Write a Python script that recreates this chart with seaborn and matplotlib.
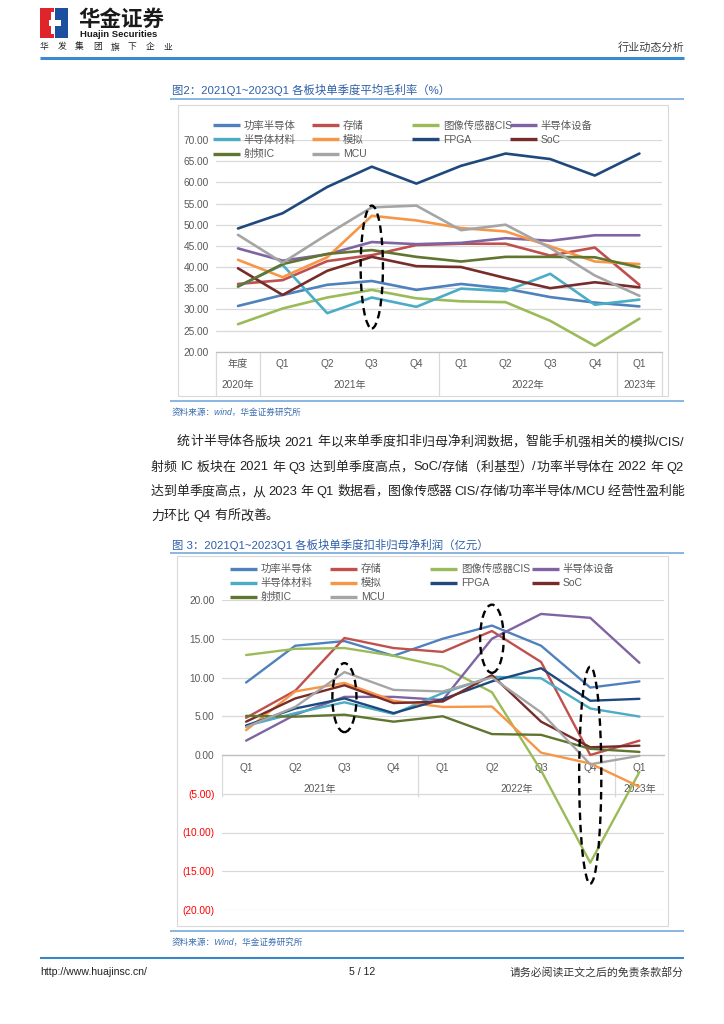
import numpy as np
import pandas as pd
import matplotlib
matplotlib.use('Agg')
import matplotlib.pyplot as plt
import matplotlib.transforms as mtransforms
from matplotlib.lines import Line2D
from matplotlib.patches import Ellipse, Rectangle
import seaborn as sns

# ---------------- data ----------------
series = ['功率半导体', '存储', '图像传感器CIS', '半导体设备', '半导体材料',
          '模拟', 'FPGA', 'SoC', '射频IC', 'MCU']
colors = ['#4F81BD', '#C0504D', '#9BBB59', '#8064A2', '#4BACC6',
          '#F79646', '#1F497D', '#772C2A', '#5F7530', '#A5A5A5']

# 图2 平均毛利率 (%)
quarters_m = ['年度', 'Q1', 'Q2', 'Q3', 'Q4', 'Q1', 'Q2', 'Q3', 'Q4', 'Q1']
years_m = ['2020年', '2021年', '2022年', '2023年']
year_sizes_m = [1, 4, 4, 1]
margin_power = [30.8, 33.4, 35.8, 36.7, 34.6, 36.0, 34.9, 32.9, 31.6, 30.7]
margin_memory = [36.0, 36.9, 41.4, 42.8, 45.2, 45.5, 45.5, 42.7, 44.6, 35.8]
margin_cis = [26.5, 30.2, 32.8, 34.6, 32.6, 31.9, 31.7, 27.3, 21.4, 27.8]
margin_equip = [44.4, 41.5, 43.0, 45.9, 45.4, 45.7, 46.8, 46.2, 47.5, 47.5]
margin_material = [35.4, 40.5, 29.1, 32.8, 30.6, 34.9, 34.3, 38.4, 31.1, 32.3]
margin_analog = [41.7, 37.6, 42.3, 52.1, 51.0, 49.2, 48.4, 44.9, 41.3, 40.7]
margin_fpga = [49.1, 52.7, 58.9, 63.7, 59.7, 63.9, 66.8, 65.5, 61.6, 66.8]
margin_soc = [39.7, 33.4, 39.1, 42.4, 40.2, 40.0, 37.4, 35.0, 36.4, 35.2]
margin_rf = [35.4, 40.7, 43.1, 44.0, 42.4, 41.3, 42.4, 42.4, 42.3, 39.9]
margin_mcu = [47.6, 41.0, 47.7, 54.1, 54.5, 48.7, 50.0, 44.5, 38.0, 33.2]

# 图3 扣非归母净利润 (亿元)
quarters_p = ['Q1', 'Q2', 'Q3', 'Q4', 'Q1', 'Q2', 'Q3', 'Q4', 'Q1']
years_p = ['2021年', '2022年', '2023年']
year_sizes_p = [4, 4, 1]
profit_power = [9.35, 14.1, 14.7, 12.8, 15.0, 16.7, 14.1, 8.7, 9.5]
profit_memory = [4.8, 8.3, 15.1, 13.8, 13.3, 16.0, 12.0, 0.0, 1.85]
profit_cis = [12.9, 13.7, 13.8, 12.8, 11.4, 8.1, -2.0, -13.9, -2.2]
profit_equip = [1.85, 5.2, 7.5, 7.5, 7.1, 15.0, 18.2, 17.7, 11.9]
profit_material = [3.75, 5.4, 6.8, 5.3, 8.0, 10.1, 9.9, 6.0, 4.96]
profit_analog = [3.2, 8.2, 9.3, 7.0, 6.2, 6.25, 0.3, -1.1, -4.1]
profit_fpga = [3.8, 6.0, 7.3, 5.4, 7.2, 9.5, 11.2, 7.0, 7.25]
profit_soc = [4.3, 7.3, 9.0, 6.7, 6.9, 10.3, 4.3, 1.0, 1.2]
profit_rf = [5.05, 4.95, 5.2, 4.3, 5.0, 2.7, 2.6, 0.8, 0.4]
profit_mcu = [3.6, 6.2, 10.7, 8.4, 8.2, 10.0, 5.5, -1.2, -0.1]

# dashed highlight ellipses: (category index, centre value, width, height)
circles_m = [(3, 40.0, 0.5, 29.0)]
circles_p = [(2, 7.4, 0.49, 8.9), (5, 15.0, 0.48, 8.8), (7, -2.6, 0.45, 28.0)]

para_lines = [
    '统计半导体各版块 2021 年以来单季度扣非归母净利润数据，智能手机强相关的模拟/CIS/',
    '射频 IC 板块在 2021 年 Q3 达到单季度高点，SoC/存储（利基型）/功率半导体在 2022 年 Q2',
    '达到单季度高点，从 2023 年 Q1 数据看，图像传感器 CIS/存储/功率半导体/MCU 经营性盈利能',
    '力环比 Q4 有所改善。',
]

# ---------------- setup ----------------
sns.set_theme(style='white')
plt.rcParams['font.family'] = ['Liberation Sans', 'Noto Sans CJK SC', 'DejaVu Sans']
CJK = ['Noto Sans CJK SC', 'DejaVu Sans']
LATIN = ['Liberation Sans', 'Noto Sans CJK SC']

W, H = 724, 1024
fig = plt.figure(figsize=(7.24, 10.24), dpi=100)
fig.patch.set_facecolor('white')


def fx(x):
    return x / W


def fy(y):
    return 1 - y / H


def hline(x0, x1, y, color, lw):
    fig.add_artist(Line2D([fx(x0), fx(x1)], [fy(y), fy(y)], transform=fig.transFigure,
                          color=color, lw=lw, solid_capstyle='butt'))


def long_df(lists):
    rows = []
    for name, vals in zip(series, lists):
        for i, v in enumerate(vals):
            rows.append((i, v, name))
    return pd.DataFrame(rows, columns=['pos', 'value', 'series'])


def draw_chart(rect, df, quarters, years, sizes, ylim, step, lw, zero_axis):
    ax = fig.add_axes(rect)
    ax.set_facecolor('none')
    sns.lineplot(data=df, x='pos', y='value', hue='series', hue_order=series,
                 palette=colors, lw=lw, errorbar=None, legend=False, ax=ax, zorder=3)
    n = len(quarters)
    ax.set_xlim(-0.5, n - 0.5)
    ax.set_ylim(*ylim)
    ticks = np.arange(ylim[0], ylim[1] + 0.1, step)
    ax.set_yticks(ticks)
    ax.set_yticklabels([f'{t:.2f}' if t >= 0 else f'({-t:.2f})' for t in ticks])
    ax.yaxis.grid(True, color='#d9d9d9', lw=0.9)
    ax.xaxis.grid(False)
    for s in ['left', 'right', 'top']:
        ax.spines[s].set_visible(False)
    ax.spines['bottom'].set_color('#bfbfbf')
    ax.spines['bottom'].set_linewidth(0.9)
    if zero_axis:
        ax.spines['bottom'].set_position(('data', 0))
    ax.set_xticks(range(n))
    ax.set_xticklabels(quarters)
    ax.tick_params(axis='x', length=0, pad=5.5, labelsize=7.3, labelcolor='#595959')
    ax.tick_params(axis='y', length=0, pad=5, labelsize=7.3, labelcolor='#595959')
    ax.set_xlabel('')
    ax.set_ylabel('')
    return ax


# ---------------- header ----------------
fig.add_artist(Rectangle((fx(40), fy(38)), 14 / W, 30 / H, transform=fig.transFigure,
                         fc='#e0242b', ec='none'))
fig.add_artist(Rectangle((fx(55), fy(38)), 13 / W, 30 / H, transform=fig.transFigure,
                         fc='#1d4fa0', ec='none'))
fig.add_artist(Rectangle((fx(49), fy(26)), 12 / W, 6 / H, transform=fig.transFigure,
                         fc='white', ec='none'))
fig.add_artist(Rectangle((fx(51), fy(34)), 3 / W, 22 / H, transform=fig.transFigure,
                         fc='white', ec='none'))
fig.text(fx(78), fy(19), '华金证券', fontsize=15.5, weight='bold', color='#1a1a1a',
         va='center', ha='left', family=CJK)
fig.text(fx(80), fy(34.5), 'Huajin Securities', fontsize=6.8, weight='bold', color='#1a1a1a',
         va='center', ha='left', family=LATIN)
for i, ch in enumerate('华发集团旗下企业'):
    fig.text(fx(40 + i * 17.6), fy(47), ch, fontsize=6.3, color='#222222',
             va='center', ha='left', family=CJK)
fig.text(fx(684), fy(47), '行业动态分析', fontsize=8, color='#404040',
         va='center', ha='right', family=CJK)
hline(40, 684, 58, '#3a8ad0', 2.2)

# ---------------- figure 2 ----------------
fig.text(fx(172), fy(90), '图2：2021Q1~2023Q1 各板块单季度平均毛利率（%）',
         fontsize=8.2, color='#2e5fa8', va='center', ha='left')
hline(170, 684, 99, '#7fb0de', 1.3)
fig.add_artist(Rectangle((fx(178), fy(396)), 490 / W, 291 / H, transform=fig.transFigure,
                         fill=False, ec='#d9d9d9', lw=0.8))

df_m = long_df([margin_power, margin_memory, margin_cis, margin_equip, margin_material,
                margin_analog, margin_fpga, margin_soc, margin_rf, margin_mcu])
ax2 = draw_chart([215.7 / W, 1 - 351.7 / H, 446 / W, 211.7 / H], df_m, quarters_m,
                 years_m, year_sizes_m, (20, 70), 5, 1.9, False)
blend2 = mtransforms.blended_transform_factory(ax2.transData, ax2.transAxes)
edges = np.concatenate([[0], np.cumsum(year_sizes_m)]) - 0.5
for e in edges:
    ax2.axvline(e, ymin=-0.209, ymax=0, clip_on=False, color='#d9d9d9', lw=0.9)
for lab, a, b in zip(years_m, edges[:-1], edges[1:]):
    ax2.text((a + b) / 2, -0.157, lab, transform=blend2, ha='center', va='center',
             fontsize=7.3, color='#595959')
for cx, cy, w, h in circles_m:
    ax2.add_patch(Ellipse((cx, cy), w, h, fill=False, ec='black', lw=1.7,
                          ls=(0, (3.2, 2.0)), zorder=6))

# ---------------- legends ----------------
def legends(col_x, row_y):
    for i, (name, c) in enumerate(zip(series, colors)):
        r, k = divmod(i, 4)
        h = Line2D([], [], color=c, lw=2.4, solid_capstyle='butt')
        fig.legend([h], [name], loc='center left',
                   bbox_to_anchor=(fx(col_x[k]), fy(row_y[r])),
                   frameon=False, fontsize=7.5, handlelength=2.6, handletextpad=0.35,
                   borderpad=0, borderaxespad=0, labelcolor='#595959')


legends([213, 312, 412, 510], [125.7, 140, 154.3])

fig.text(fx(172), fy(412), '资料来源：wind，华金证券研究所', fontsize=6.2,
         color='#3b6eb0', style='italic', va='center', ha='left')
hline(170, 684, 401, '#7fb0de', 1.3)

# ---------------- paragraph ----------------
def split_segments(s):
    segs, buf = [], ''
    for ch in s:
        if ch == ' ':
            if buf:
                segs.append(buf)
                buf = ''
            segs.append(' ')
        elif ord(ch) < 128:
            buf += ch
        else:
            if buf:
                segs.append(buf)
                buf = ''
            segs.append(ch)
    if buf:
        segs.append(buf)
    return segs


renderer = fig.canvas.get_renderer()


def put_line(text, x0, x1, y, fs, justify=True):
    px = fs * 100 / 72
    segs = split_segments(text)
    widths = []
    for s in segs:
        if s == ' ':
            widths.append(px * 0.28)
        elif ord(s[0]) > 127:
            widths.append(px)
        else:
            t = fig.text(0, 0, s, fontsize=fs, family=LATIN)
            widths.append(t.get_window_extent(renderer).width)
            t.remove()
    gap = (x1 - x0 - sum(widths)) / (len(segs) - 1) if justify else 0.0
    x = x0
    for s, w in zip(segs, widths):
        if s != ' ':
            if ord(s[0]) > 127:
                if s in '，。：；）/':
                    ha, xx = 'left', x
                elif s == '（':
                    ha, xx = 'right', x + w
                else:
                    ha, xx = 'center', x + w / 2
                fig.text(fx(xx), fy(y), s, fontsize=fs, family=CJK, ha=ha,
                         va='baseline', color='#222222')
            else:
                fig.text(fx(x), fy(y), s, fontsize=fs, family=LATIN, ha='left',
                         va='baseline', color='#222222')
        x += w + gap


starts = [177, 151, 151, 151]
bases = [445.5, 470.5, 495, 519.5]
for i, line in enumerate(para_lines):
    put_line(line, starts[i], 684, bases[i], 9.3, justify=(i < len(para_lines) - 1))

# ---------------- figure 3 ----------------
fig.text(fx(172), fy(545), '图 3：2021Q1~2023Q1 各板块单季度扣非归母净利润（亿元）',
         fontsize=8.2, color='#2e5fa8', va='center', ha='left')
hline(170, 684, 553, '#7fb0de', 1.3)
fig.add_artist(Rectangle((fx(177), fy(926)), 491 / W, 370 / H, transform=fig.transFigure,
                         fill=False, ec='#d9d9d9', lw=0.8))

df_p = long_df([profit_power, profit_memory, profit_cis, profit_equip, profit_material,
                profit_analog, profit_fpga, profit_soc, profit_rf, profit_mcu])
ax3 = draw_chart([221.5 / W, 1 - 910 / H, 442.5 / W, 310 / H], df_p, quarters_p,
                 years_p, year_sizes_p, (-20, 20), 5, 1.7, True)
for lab in ax3.get_yticklabels():
    if lab.get_text().startswith('('):
        lab.set_color('#ff0000')
edges3 = np.concatenate([[0], np.cumsum(year_sizes_p)]) - 0.5
ax3.vlines(edges3, -5.4, 0, colors='#d9d9d9', lw=0.9, zorder=2)
for lab, a, b in zip(years_p, edges3[:-1], edges3[1:]):
    ax3.text((a + b) / 2, -4.45, lab, ha='center', va='center', fontsize=7.3,
             color='#595959', zorder=2)
for cx, cy, w, h in circles_p:
    ax3.add_patch(Ellipse((cx, cy), w, h, fill=False, ec='black', lw=1.7,
                          ls=(0, (3.2, 2.0)), zorder=6))

legends([230, 330, 430, 532], [569.3, 583.3, 597.3])

hline(170, 684, 931, '#7fb0de', 1.3)
fig.text(fx(172), fy(942), '资料来源：Wind，华金证券研究所', fontsize=6.2,
         color='#3b6eb0', style='italic', va='center', ha='left')

# ---------------- footer ----------------
hline(40, 684, 958, '#3a86c8', 1.5)
fig.text(fx(40), fy(972), 'http://www.huajinsc.cn/', fontsize=7.6, color='#222222',
         va='center', ha='left', family=LATIN)
fig.text(fx(362), fy(972), '5 / 12', fontsize=7.6, color='#222222',
         va='center', ha='center', family=LATIN)
fig.text(fx(684), fy(972), '请务必阅读正文之后的免责条款部分', fontsize=7.8, color='#333333',
         va='center', ha='right', family=CJK)

fig.savefig('out.png', dpi=100, facecolor='white')
